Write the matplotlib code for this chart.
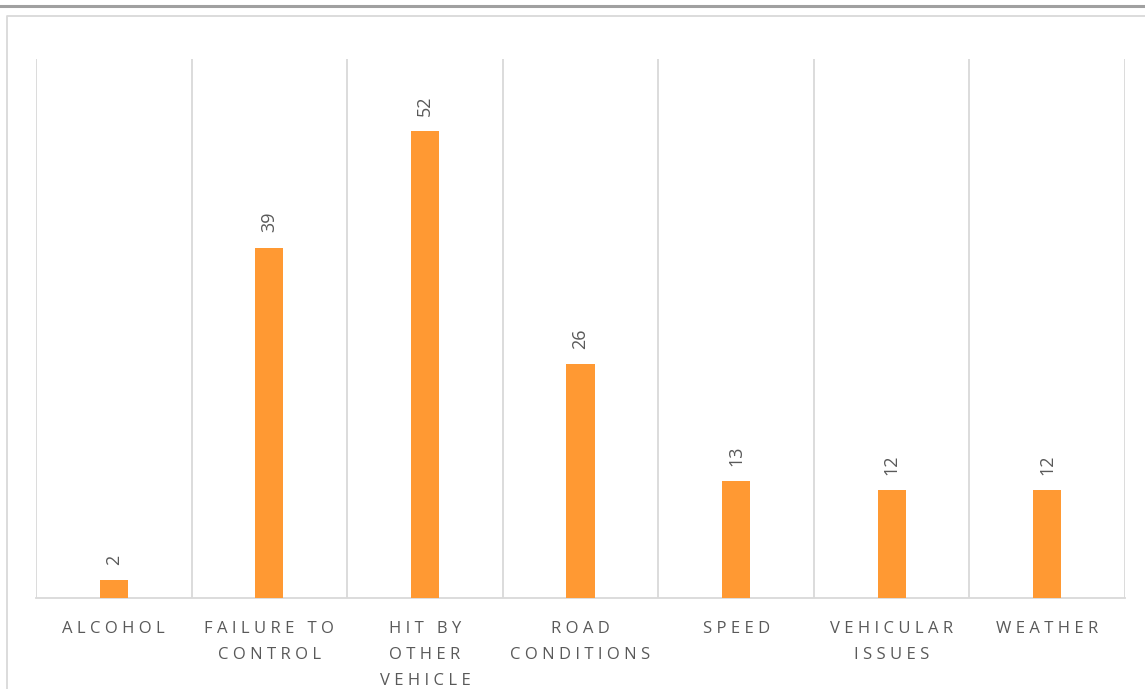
import matplotlib
matplotlib.use("Agg")
import matplotlib.pyplot as plt
from matplotlib.lines import Line2D

categories = ["ALCOHOL", "FAILURE TO\nCONTROL", "HIT BY\nOTHER\nVEHICLE", "ROAD\nCONDITIONS",
              "SPEED", "VEHICULAR\nISSUES", "WEATHER"]
values = [2, 39, 52, 26, 13, 12, 12]

BAR = "#FF9933"
GRID = "#D9D9D9"
TXT = "#595959"

def spaced(s):
    lines = s.split("\n")
    return "\n".join("   ".join(" ".join(w) for w in ln.split(" ")) for ln in lines)

W, H = 1145, 689
fig = plt.figure(figsize=(W / 100, H / 100), dpi=100)
fig.patch.set_facecolor("white")

# outer decoration
fig.add_artist(Line2D([0, 1], [1 - 6 / H, 1 - 6 / H], transform=fig.transFigure,
                      color="#A0A0A0", lw=2.2))
fig.add_artist(Line2D([6.5 / W, 6.5 / W, 1.01], [-0.01, 1 - 15.5 / H, 1 - 15.5 / H],
                      transform=fig.transFigure, color=GRID, lw=1.3))

ax = fig.add_axes([36 / W, (H - 598) / H, (1125 - 36) / W, (598 - 59) / H])
x = list(range(len(categories)))
bars = ax.bar(x, values, width=0.18, color=BAR, zorder=3)
ax.set_xlim(-0.5, len(categories) - 0.5)
ax.set_ylim(0, 60)

for b, v in zip(bars, values):
    ax.annotate(str(v), (b.get_x() + b.get_width() / 2, v), xytext=(0, 11),
                textcoords="offset points", rotation=90, ha="center", va="bottom",
                color=TXT, fontsize=13, family="Open Sans")

for i in range(len(categories) + 1):
    ax.axvline(i - 0.5, color=GRID, lw=1.3, zorder=1)

for s in ["top", "right", "left"]:
    ax.spines[s].set_visible(False)
ax.spines["bottom"].set_color(GRID)
ax.spines["bottom"].set_linewidth(1.3)
ax.set_yticks([])
ax.set_xticks(x)
ax.set_xticklabels([spaced(c) for c in categories], fontsize=12, color=TXT,
                   family="Open Sans", linespacing=1.85)
ax.tick_params(axis="x", length=0, pad=16.5)

fig.savefig("out.png", dpi=100)
